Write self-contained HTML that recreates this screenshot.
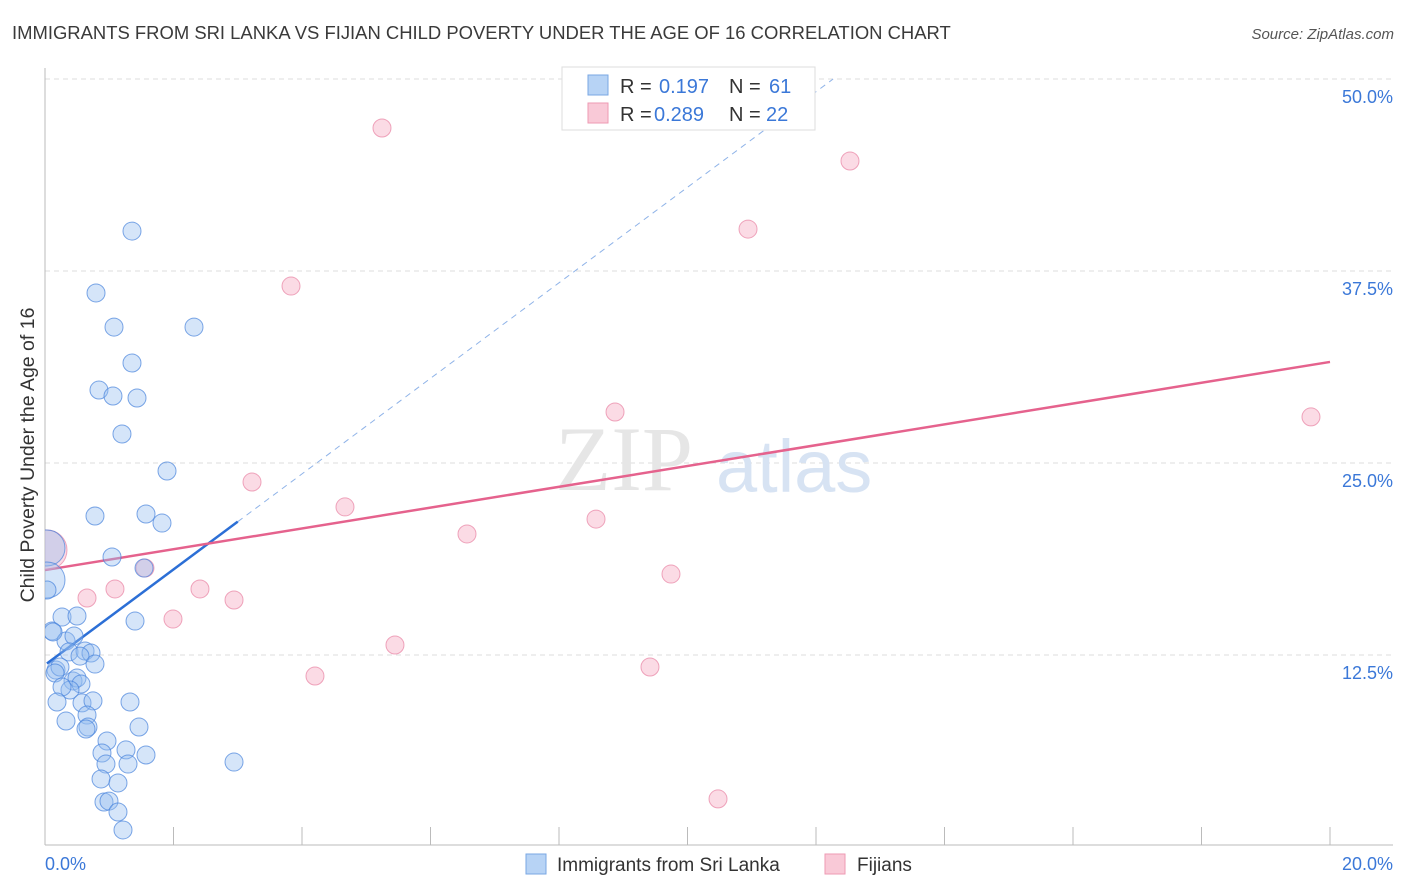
<!DOCTYPE html>
<html><head><meta charset="utf-8">
<style>
body{margin:0;background:#fff;font-family:"Liberation Sans",sans-serif;}
svg{display:block}
</style></head>
<body>
<svg id="chart" width="1406" height="892" viewBox="0 0 1406 892">
<defs><clipPath id="plotclip"><rect x="45" y="60" width="1360" height="786"/></clipPath></defs>
<text x="12" y="39" font-size="18.45" fill="#3a3a3a">IMMIGRANTS FROM SRI LANKA VS FIJIAN CHILD POVERTY UNDER THE AGE OF 16 CORRELATION CHART</text>
<text x="1394" y="39" font-size="15" fill="#555" font-style="italic" text-anchor="end">Source: ZipAtlas.com</text>
<text x="0" y="0" transform="translate(34,455) rotate(-90)" font-size="19.5" fill="#333" text-anchor="middle">Child Poverty Under the Age of 16</text>
<g id="grid"></g>
<text x="555" y="490" font-size="92" fill="#e6e6e6" font-family="Liberation Serif,serif">ZIP</text>
<text x="716" y="492" font-size="74" fill="#d7e3f3">atlas</text>
<g id="lines"></g>
<g id="points" clip-path="url(#plotclip)"></g>
<g>
<rect x="562" y="67" width="253" height="63" fill="#fff" stroke="#ddd"/>
<rect x="588" y="75" width="20" height="20" fill="#b7d3f5" stroke="#7aa7e3"/>
<rect x="588" y="103" width="20" height="20" fill="#f9c9d7" stroke="#ee9ab3"/>
<text x="620" y="93" font-size="20" fill="#333">R =</text>
<text x="659" y="93" font-size="20" fill="#3b78d8">0.197</text>
<text x="729" y="93" font-size="20" fill="#333">N =</text>
<text x="769" y="93" font-size="20" fill="#3b78d8">61</text>
<text x="620" y="121" font-size="20" fill="#333">R =</text>
<text x="654" y="121" font-size="20" fill="#3b78d8">0.289</text>
<text x="729" y="121" font-size="20" fill="#333">N =</text>
<text x="766" y="121" font-size="20" fill="#3b78d8">22</text>
</g>
<g>
<rect x="526" y="854" width="20" height="20" fill="#b7d3f5" stroke="#7aa7e3"/>
<text x="557" y="871" font-size="19" fill="#333">Immigrants from Sri Lanka</text>
<rect x="825" y="854" width="20" height="20" fill="#f9c9d7" stroke="#ee9ab3"/>
<text x="857" y="871" font-size="19" fill="#333">Fijians</text>
</g>
</svg>
<script>
const xTicks=[0,20];
const yTicks=[12.5,25,37.5,50];
const blueX=[1.354,0.794,1.074,2.319,1.354,0.840,1.058,1.432,1.198,1.899,0.778,1.572,1.821,1.043,1.541,0.031,0.031,0.031,0.109,0.265,0.498,1.401,0.327,0.451,0.374,0.623,0.716,0.545,0.778,0.171,0.233,0.156,0.436,0.498,0.560,0.389,0.265,0.187,0.576,0.747,1.323,0.654,0.327,1.463,0.669,0.638,0.965,0.887,1.261,1.572,0.949,1.292,0.872,1.136,0.918,0.996,1.136,1.214,2.942,0.125];
const blueY=[40.10,36.07,33.85,33.85,31.51,29.75,29.36,29.23,26.89,24.48,21.55,21.68,21.09,18.88,18.16,19.47,17.38,16.73,14.06,14.97,15.04,14.71,13.41,13.74,12.70,12.76,12.63,12.43,11.91,11.52,11.72,11.33,10.81,11.00,10.61,10.22,10.42,9.44,9.38,9.51,9.44,8.59,8.20,7.81,7.81,7.68,6.90,6.12,6.32,5.99,5.40,5.40,4.43,4.17,2.93,2.99,2.28,1.11,5.53,14.00];
const blueBig=[15,16];
const pinkX=[5.245,12.529,10.942,3.829,8.872,19.704,3.222,4.669,8.576,6.568,1.556,0.031,9.743,1.089,2.412,0.654,2.942,1.992,5.447,9.416,4.202,10.475];
const pinkY=[46.81,44.66,40.23,36.52,28.32,28.00,23.76,22.14,21.35,20.38,18.16,19.34,17.77,16.80,16.80,16.21,16.08,14.84,13.15,11.72,11.13,3.13];
const pinkBig=[11];
const blueLine=[11.85,3.11]; // intercept, slope
const pinkLine=[18.03,0.6775];
const blueSolidEnd=3.0;

const X=v=>45+v/20*1285;
const Y=v=>847-v/12.5*192;
const NS='http://www.w3.org/2000/svg';
function mk(tag,attrs,parent){const e=document.createElementNS(NS,tag);for(const k in attrs)e.setAttribute(k,attrs[k]);parent.appendChild(e);return e;}
const grid=document.getElementById('grid');
yTicks.forEach(t=>{
 const l=mk('line',{x1:45,x2:1393,y1:Y(t),y2:Y(t),stroke:'#ddd','stroke-dasharray':'5,4'},grid);
 
 
 const tx=mk('text',{x:1393,y:Y(t)+24,'font-size':18,fill:'#3b78d8','text-anchor':'end'},grid);
 tx.textContent=t.toFixed(1)+'%';
 
 
});
mk('line',{x1:45,x2:45,y1:68,y2:845,stroke:'#bbb'},grid);
mk('line',{x1:45,x2:1393,y1:845,y2:845,stroke:'#bbb'},grid);
for(let i=1;i<=10;i++){const l=mk('line',{x1:X(i*2),x2:X(i*2),y1:827,y2:845,stroke:'#bbb'},grid);
 
 }
xTicks.forEach((t,i)=>{const tx=mk('text',{x:i==0?45:1393,y:870,'font-size':18,fill:'#3b78d8','text-anchor':i==0?'start':'end'},grid);
 tx.textContent=t.toFixed(1)+'%';
 
 });
const pts=document.getElementById('points');
pinkX.forEach((x,i)=>{const c=mk('circle',{cx:X(x),cy:Y(pinkY[i]),r:pinkBig.includes(i)?20:9,fill:'rgba(246,176,198,0.45)',stroke:'rgba(232,130,162,0.7)','stroke-width':1},pts);
 
 });
blueX.forEach((x,i)=>{const c=mk('circle',{cx:X(x),cy:Y(blueY[i]),r:blueBig.includes(i)?18:9,fill:'rgba(150,190,240,0.4)',stroke:'rgba(70,130,220,0.7)','stroke-width':1},pts);
 
 });
const ln=document.getElementById('lines');
const by=x=>blueLine[0]+blueLine[1]*x, py=x=>pinkLine[0]+pinkLine[1]*x;
const xEnd=(50-blueLine[0])/blueLine[1];
let l=mk('line',{x1:X(blueSolidEnd),y1:Y(by(blueSolidEnd)),x2:X(xEnd),y2:Y(by(xEnd)),stroke:'#8fb3e8','stroke-width':1,'stroke-dasharray':'6,5'},ln);


l=mk('line',{x1:X(0.03),y1:Y(by(0.03)),x2:X(blueSolidEnd),y2:Y(by(blueSolidEnd)),stroke:'#2c6fd6','stroke-width':2.5},ln);


l=mk('line',{x1:X(0),y1:Y(py(0)),x2:X(20),y2:Y(py(20)),stroke:'#e5628d','stroke-width':2.5},ln);


</script>
</body></html>
